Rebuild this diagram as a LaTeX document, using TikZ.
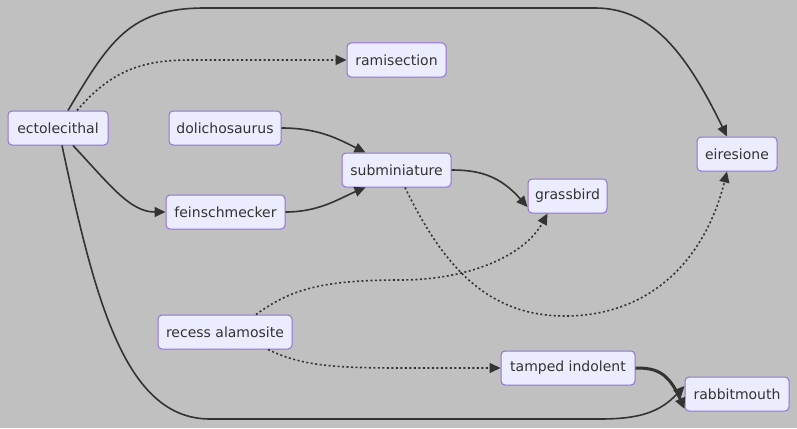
\documentclass[tikz,border=0pt]{standalone}
\usepackage{fontspec}
\setmainfont{DejaVu Sans}
\usetikzlibrary{arrows.meta}
\definecolor{bg}{RGB}{192,192,192}
\definecolor{nfill}{RGB}{236,236,255}
\definecolor{nborder}{RGB}{147,112,219}
\definecolor{ink}{RGB}{51,51,51}
\begin{document}
\begin{tikzpicture}[x=1pt,y=-1pt,
  box/.style={draw=nborder,fill=nfill,line width=1pt,rounded corners=4pt,inner sep=0pt,
    minimum height=34pt,text=ink,font=\fontsize{14}{16}\selectfont},
  tip/.style={-{Triangle[length=11pt,width=10pt]}},
  edge/.style={draw=ink,line width=1.6pt,tip},
  dotedge/.style={edge,dash pattern=on 2pt off 2.5pt}]
\fill[bg] (0,0) rectangle (797,428);
\useasboundingbox (0,0) rectangle (797,428);
\node[box,minimum width=100pt] (ecto) at (58,128) {ectolecithal};
\node[box,minimum width=99pt] (rami) at (396.5,60) {ramisection};
\node[box,minimum width=112pt] (doli) at (225,128) {dolichosaurus};
\node[box,minimum width=109pt] (subm) at (396.5,170) {subminiature};
\node[box,minimum width=119pt] (fein) at (225.5,212) {feinschmecker};
\node[box,minimum width=79pt] (grass) at (567.5,196) {grassbird};
\node[box,minimum width=80pt] (eire) at (737,154) {eiresione};
\node[box,minimum width=134pt] (reces) at (225,332) {recess alamosite};
\node[box,minimum width=134pt] (tamp) at (568,368) {tamped indolent};
\node[box,minimum width=104pt] (rabb) at (737,394) {rabbitmouth};

\draw[edge] ([xshift=10pt]ecto.north) .. controls (110,40) and (130,8) .. (205,8) -- (595,8) .. controls (650,8) and (685,50) .. ([xshift=-10pt]eire.north);
\draw[dotedge] ([xshift=19pt]ecto.north) .. controls (110,72) and (140,60) .. (190,60) -- (rami.west);
\draw[edge] ([xshift=15pt]ecto.south) .. controls (110,185) and (130,212) .. (fein.west);
\draw[edge] ([xshift=4pt]ecto.south) .. controls (95,300) and (125,419) .. (210,419) -- (600,419) .. controls (640,419) and (660,412) .. ([yshift=8pt]rabb.west);
\draw[edge] (doli.east) .. controls (320,128) and (340,140) .. ([xshift=-31pt]subm.north);
\draw[edge] (fein.east) .. controls (320,212) and (340,198) .. ([xshift=-31pt]subm.south);
\draw[edge] (subm.east) .. controls (480,170) and (500,176) .. ([yshift=-11pt]grass.west);
\draw[dotedge] ([xshift=8.5pt]subm.south) .. controls (445,270) and (490,316) .. (565,316) .. controls (650,316) and (705,260) .. ([xshift=-10pt]eire.south);
\draw[dotedge] ([xshift=31pt]reces.north) .. controls (290,290) and (320,280) .. (400,280) .. controls (470,280) and (525,255) .. ([xshift=-20pt]grass.south);
\draw[dotedge] ([xshift=43pt]reces.south) .. controls (300,365) and (330,368) .. (400,368) -- (tamp.west);
\draw[edge,line width=3pt] (tamp.east) .. controls (655,368) and (668,371) .. ([yshift=-15pt]rabb.west);
\end{tikzpicture}
\end{document}
